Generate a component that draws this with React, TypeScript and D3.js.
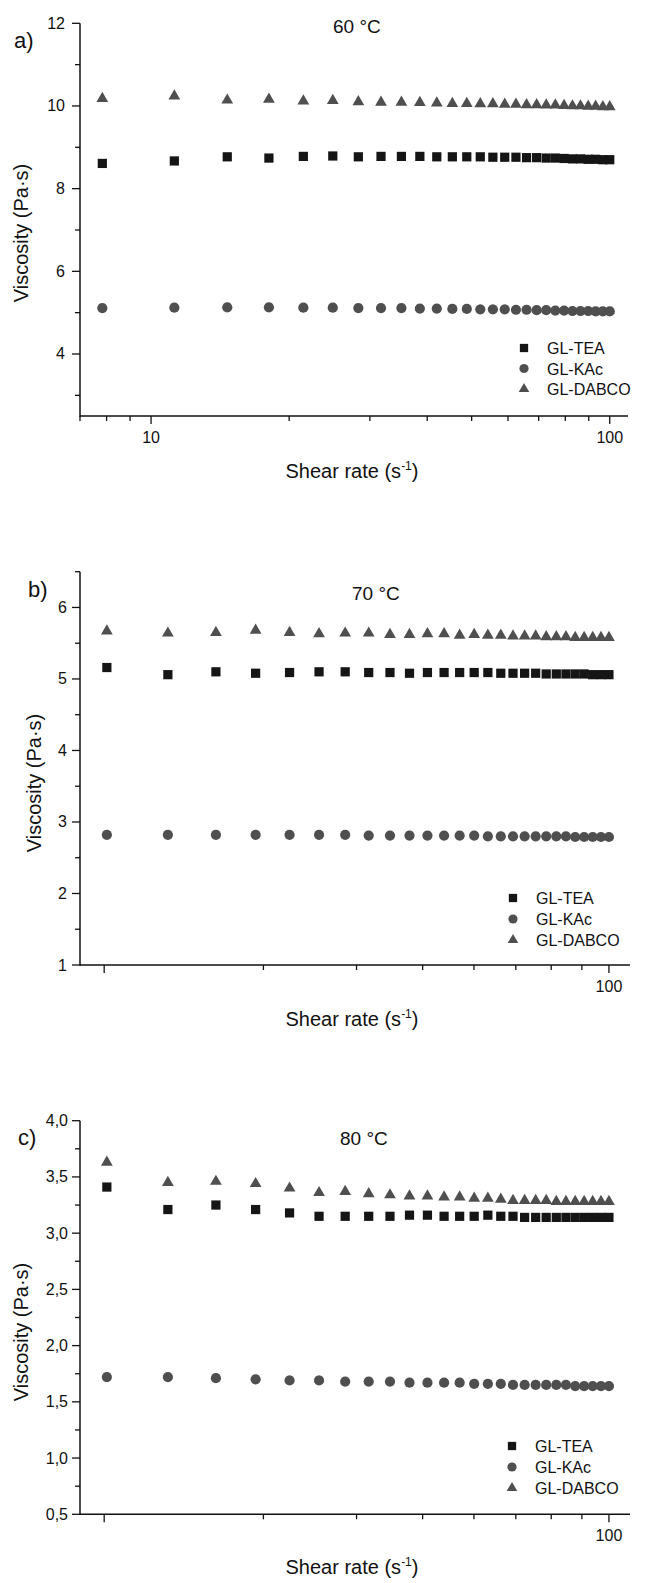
import React from "react";
import * as d3 from "d3";

// ---------- data ----------
const shearA = [7.83, 11.24, 14.66, 18.07, 21.48, 24.9, 28.31, 31.72, 35.14, 38.55, 41.97, 45.38, 48.79, 52.21, 55.62, 59.03, 62.45, 65.86, 69.28, 72.69, 76.1, 79.52, 82.93, 86.34, 89.76, 93.17, 96.59, 100.0];
const shearBC = [11.24, 14.66, 18.07, 21.48, 24.9, 28.31, 31.72, 35.14, 38.55, 41.97, 45.38, 48.79, 52.21, 55.62, 59.03, 62.45, 65.86, 69.28, 72.69, 76.1, 79.52, 82.93, 86.34, 89.76, 93.17, 96.59, 100.0];

const teaA = [8.61, 8.67, 8.77, 8.74, 8.78, 8.79, 8.77, 8.78, 8.78, 8.78, 8.77, 8.77, 8.77, 8.77, 8.76, 8.76, 8.76, 8.75, 8.75, 8.74, 8.74, 8.73, 8.72, 8.72, 8.71, 8.71, 8.7, 8.7];
const kacA = [5.11, 5.12, 5.13, 5.13, 5.12, 5.12, 5.11, 5.11, 5.11, 5.1, 5.1, 5.09, 5.09, 5.08, 5.08, 5.08, 5.07, 5.07, 5.06, 5.06, 5.05, 5.05, 5.04, 5.04, 5.04, 5.03, 5.03, 5.03];
const dabcoA = [10.18, 10.24, 10.14, 10.16, 10.12, 10.13, 10.1, 10.09, 10.09, 10.08, 10.07, 10.06, 10.06, 10.05, 10.05, 10.04, 10.04, 10.03, 10.03, 10.02, 10.02, 10.01, 10.0, 10.0, 9.99, 9.99, 9.98, 9.98];

const teaB = [5.16, 5.06, 5.1, 5.08, 5.09, 5.1, 5.1, 5.09, 5.09, 5.08, 5.09, 5.09, 5.09, 5.09, 5.09, 5.08, 5.08, 5.08, 5.08, 5.07, 5.07, 5.07, 5.07, 5.07, 5.06, 5.06, 5.06];
const kacB = [2.82, 2.82, 2.82, 2.82, 2.82, 2.82, 2.82, 2.81, 2.81, 2.81, 2.81, 2.81, 2.81, 2.81, 2.8, 2.8, 2.8, 2.8, 2.8, 2.8, 2.8, 2.8, 2.79, 2.79, 2.79, 2.79, 2.79];
const dabcoB = [5.67, 5.64, 5.65, 5.68, 5.65, 5.63, 5.64, 5.64, 5.62, 5.62, 5.63, 5.63, 5.61, 5.62, 5.61, 5.61, 5.6, 5.6, 5.6, 5.59, 5.59, 5.59, 5.58, 5.58, 5.58, 5.58, 5.58];

const teaC = [3.41, 3.21, 3.25, 3.21, 3.18, 3.15, 3.15, 3.15, 3.15, 3.16, 3.16, 3.15, 3.15, 3.15, 3.16, 3.15, 3.15, 3.14, 3.14, 3.14, 3.14, 3.14, 3.14, 3.14, 3.14, 3.14, 3.14];
const kacC = [1.72, 1.72, 1.71, 1.7, 1.69, 1.69, 1.68, 1.68, 1.68, 1.67, 1.67, 1.67, 1.67, 1.66, 1.66, 1.66, 1.65, 1.65, 1.65, 1.65, 1.65, 1.65, 1.64, 1.64, 1.64, 1.64, 1.64];
const dabcoC = [3.63, 3.45, 3.46, 3.44, 3.4, 3.36, 3.37, 3.35, 3.34, 3.33, 3.33, 3.32, 3.32, 3.31, 3.31, 3.3, 3.29, 3.29, 3.29, 3.29, 3.28, 3.28, 3.28, 3.28, 3.28, 3.28, 3.28];

const seriesNames = ["GL-TEA", "GL-KAc", "GL-DABCO"];
const panelLetters = ["a)", "b)", "c)"];
const panelTitles = ["60 \u00b0C", "70 \u00b0C", "80 \u00b0C"];

const xTicksA = [7, 8, 9, 10, 20, 30, 40, 50, 60, 70, 80, 90, 100];
const xMajorA = [10, 100];
const xTicksBC = [11.11, 22.22, 33.33, 44.44, 55.56, 66.67, 77.78, 88.89, 100];
const xMajorBC = [11.11, 100];
const xLabelsBC = [100];

const yMajorA = [4, 6, 8, 10, 12];
const yMinorA = [3, 5, 7, 9, 11];
const yMajorB = [1, 2, 3, 4, 5, 6];
const yMinorB = [1.5, 2.5, 3.5, 4.5, 5.5, 6.5];
const yMajorC = [0.5, 1.0, 1.5, 2.0, 2.5, 3.0, 3.5, 4.0];
const yMinorC = [0.75, 1.25, 1.75, 2.25, 2.75, 3.25, 3.75];

const FONT = "'Liberation Sans', Arial, sans-serif";
const INK = "#111";
const SQ = "#151515";
const GRAY = "#4f4f4f";

const sym = {
  square: d3.symbol().type(d3.symbolSquare).size(85)(),
  circle: d3.symbol().type(d3.symbolCircle).size(82)(),
  triangle: d3.symbol().type(d3.symbolTriangle).size(60)(),
};

type PanelProps = {
  idx: number;
  xDomain: [number, number];
  xRange: [number, number];
  yDomain: [number, number];
  yRange: [number, number];
  xs: number[];
  tea: number[];
  kac: number[];
  dabco: number[];
  xTicks: number[];
  xMajor: number[];
  xLabels: number[];
  yMajor: number[];
  yMinor: number[];
  yFmt: (v: number) => string;
  yLabelX: number;
  yLabelY: number;
  yTickLabelRight: number;
  letterPos: [number, number];
  titlePos: [number, number];
  legend: [number, number, number];
  xTitleY: number;
};

function Panel(p: PanelProps) {
  const x = d3.scaleLog().domain(p.xDomain).range(p.xRange);
  const y = d3.scaleLinear().domain(p.yDomain).range(p.yRange);
  const [x0, x1] = p.xRange;
  const [yb, yt] = p.yRange;
  const series = [
    { vals: p.tea, d: sym.square, fill: SQ },
    { vals: p.kac, d: sym.circle, fill: GRAY },
    { vals: p.dabco, d: sym.triangle, fill: GRAY },
  ];
  const [lx, ly0, lstep] = p.legend;
  return (
    <g>
      {series.map((s, si) => (
        <g key={si}>
          {p.xs.map((xv, i) => (
            <path key={i} d={s.d} fill={s.fill} transform={`translate(${x(xv)},${y(s.vals[i])})`} />
          ))}
        </g>
      ))}
      {/* axes */}
      <line x1={x0} x2={x1} y1={yb} y2={yb} stroke={INK} strokeWidth={1.5} />
      <line x1={x0} x2={x0} y1={yb + 0.75} y2={yt} stroke={INK} strokeWidth={1.5} />
      {p.xTicks.map((t) => {
        const major = p.xMajor.includes(t);
        return <line key={"xt" + t} x1={x(t)} x2={x(t)} y1={yb} y2={yb + (major ? 8 : 5)} stroke={INK} strokeWidth={1.3} />;
      })}
      {p.xLabels.map((t) => (
        <text key={"xl" + t} x={x(t)} y={yb + 27} textAnchor="middle" fontSize={16} fontFamily={FONT} fill={INK}>
          {t}
        </text>
      ))}
      {p.yMajor.map((t) => (
        <g key={"ym" + t}>
          <line x1={x0 - 8} x2={x0} y1={y(t)} y2={y(t)} stroke={INK} strokeWidth={1.3} />
          <text x={p.yTickLabelRight} y={y(t) + 5.5} textAnchor="end" fontSize={16} fontFamily={FONT} fill={INK}>
            {p.yFmt(t)}
          </text>
        </g>
      ))}
      {p.yMinor.map((t) => (
        <line key={"yn" + t} x1={x0 - 5} x2={x0} y1={y(t)} y2={y(t)} stroke={INK} strokeWidth={1.3} />
      ))}
      {/* titles */}
      <text
        transform={`translate(${p.yLabelX},${p.yLabelY}) rotate(-90)`}
        textAnchor="middle"
        dy="0.35em"
        fontSize={20}
        fontFamily={FONT}
        fill={INK}
      >
        Viscosity (Pa·s)
      </text>
      <text x={352} y={p.xTitleY} textAnchor="middle" fontSize={20} fontFamily={FONT} fill={INK}>
        Shear rate (s
        <tspan fontSize={12} dy={-8}>-1</tspan>
        <tspan dy={8}>)</tspan>
      </text>
      <text x={p.letterPos[0]} y={p.letterPos[1]} fontSize={22} fontFamily={FONT} fill={INK}>
        {panelLetters[p.idx]}
      </text>
      <text x={p.titlePos[0]} y={p.titlePos[1]} fontSize={19} fontFamily={FONT} fill={INK}>
        {panelTitles[p.idx]}
      </text>
      {/* legend */}
      {series.map((s, si) => (
        <g key={"lg" + si}>
          <path d={s.d} fill={s.fill} transform={`translate(${lx},${ly0 + si * lstep}) scale(0.9)`} />
          <text x={lx + 23} y={ly0 + si * lstep + 6} fontSize={16} fontFamily={FONT} fill={INK}>
            {seriesNames[si]}
          </text>
        </g>
      ))}
    </g>
  );
}

export default function App() {
  const dot = (v: number) => String(v);
  const comma = (v: number) => v.toFixed(1).replace(".", ",");
  return (
    <svg
      width={652}
      height={1583}
      viewBox="0 0 652 1583"
      style={{ position: "absolute", left: 0, top: 0, background: "#fff" }}
    >
      <rect width={652} height={1583} fill="#fff" />
      <Panel
        idx={0}
        xDomain={[7, 109.6]}
        xRange={[80, 628]}
        yDomain={[2.5, 12]}
        yRange={[416, 23.3]}
        xs={shearA}
        tea={teaA}
        kac={kacA}
        dabco={dabcoA}
        xTicks={xTicksA}
        xMajor={xMajorA}
        xLabels={xMajorA}
        yMajor={yMajorA}
        yMinor={yMinorA}
        yFmt={dot}
        yLabelX={21}
        yLabelY={233}
        yTickLabelRight={65}
        letterPos={[14, 48]}
        titlePos={[333, 33]}
        legend={[524, 348, 20.5]}
        xTitleY={478}
      />
      <Panel
        idx={1}
        xDomain={[10, 109.6]}
        xRange={[80, 630]}
        yDomain={[1, 6.5]}
        yRange={[965, 571.7]}
        xs={shearBC}
        tea={teaB}
        kac={kacB}
        dabco={dabcoB}
        xTicks={xTicksBC}
        xMajor={xMajorBC}
        xLabels={xLabelsBC}
        yMajor={yMajorB}
        yMinor={yMinorB}
        yFmt={dot}
        yLabelX={34}
        yLabelY={783}
        yTickLabelRight={67}
        letterPos={[28, 597]}
        titlePos={[352, 600]}
        legend={[513, 898, 21]}
        xTitleY={1026}
      />
      <Panel
        idx={2}
        xDomain={[10, 109.6]}
        xRange={[80, 630]}
        yDomain={[0.5, 4.0]}
        yRange={[1514.3, 1120.7]}
        xs={shearBC}
        tea={teaC}
        kac={kacC}
        dabco={dabcoC}
        xTicks={xTicksBC}
        xMajor={xMajorBC}
        xLabels={xLabelsBC}
        yMajor={yMajorC}
        yMinor={yMinorC}
        yFmt={comma}
        yLabelX={21}
        yLabelY={1332}
        yTickLabelRight={68}
        letterPos={[18, 1145]}
        titlePos={[340, 1145]}
        legend={[512, 1446, 21]}
        xTitleY={1574}
      />
    </svg>
  );
}
